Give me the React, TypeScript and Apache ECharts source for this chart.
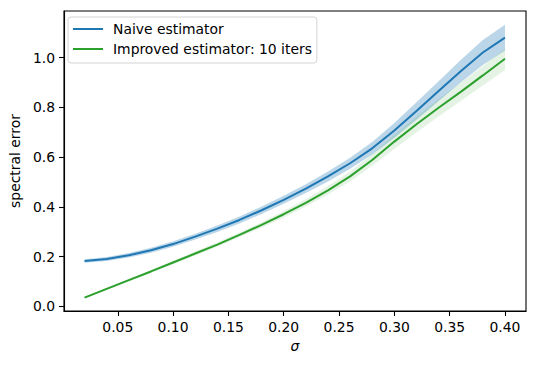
import React, { useEffect, useRef } from "react";
import * as echarts from "echarts";

const sigma = [0.02, 0.04, 0.06, 0.08, 0.1, 0.12, 0.14, 0.16, 0.18, 0.2, 0.22, 0.24, 0.26, 0.28, 0.3, 0.32, 0.34, 0.36, 0.38, 0.4];

const naiveMean = [0.182, 0.19, 0.205, 0.225, 0.25, 0.28, 0.312, 0.347, 0.386, 0.428, 0.473, 0.522, 0.575, 0.635, 0.707, 0.785, 0.865, 0.945, 1.02, 1.08];
const naiveLow = [0.175, 0.182, 0.196, 0.215, 0.239, 0.268, 0.299, 0.333, 0.371, 0.412, 0.455, 0.502, 0.553, 0.61, 0.677, 0.75, 0.825, 0.9, 0.97, 1.028];
const naiveHigh = [0.189, 0.198, 0.214, 0.235, 0.261, 0.292, 0.325, 0.361, 0.401, 0.444, 0.491, 0.542, 0.597, 0.66, 0.737, 0.82, 0.905, 0.99, 1.07, 1.132];

const improvedMean = [0.035, 0.07, 0.105, 0.14, 0.176, 0.212, 0.248, 0.287, 0.327, 0.37, 0.416, 0.466, 0.522, 0.588, 0.662, 0.732, 0.798, 0.862, 0.928, 0.995];
const improvedLow = [0.032, 0.066, 0.1, 0.134, 0.169, 0.204, 0.239, 0.277, 0.316, 0.357, 0.401, 0.449, 0.502, 0.565, 0.632, 0.7, 0.763, 0.825, 0.888, 0.95];
const improvedHigh = [0.038, 0.074, 0.11, 0.146, 0.183, 0.22, 0.257, 0.297, 0.338, 0.383, 0.431, 0.483, 0.542, 0.611, 0.69, 0.762, 0.832, 0.899, 0.965, 1.035];

const xTicks = [0.05, 0.1, 0.15, 0.2, 0.25, 0.3, 0.35, 0.4];
const yTicks = [0, 0.2, 0.4, 0.6, 0.8, 1.0];

const seriesNames = ["Naive estimator", "Improved estimator: 10 iters"];
const colors = ["#1f77b4", "#2ca02c"];

const FONT = "DejaVu Sans";
const FS = 13.9;

function bandSeries(low: number[], high: number[], fill: string) {
  return {
    type: "custom",
    silent: true,
    clip: true,
    data: [[sigma[0], low[0]]],
    renderItem: (_params: any, api: any) => {
      const pts: number[][] = [];
      for (let i = 0; i < sigma.length; i++) pts.push(api.coord([sigma[i], high[i]]));
      for (let i = sigma.length - 1; i >= 0; i--) pts.push(api.coord([sigma[i], low[i]]));
      return { type: "polygon", shape: { points: pts }, style: { fill, stroke: "none" } };
    },
    z: 1,
  };
}

export default function App() {
  const ref = useRef<HTMLDivElement>(null);
  useEffect(() => {
    if (!ref.current) return;
    const chart = echarts.init(ref.current, null, { renderer: "svg" });
    const axisCommon = {
      axisLine: { show: true, onZero: false, lineStyle: { color: "#000", width: 1.1 } },
      axisTick: { show: true, inside: false, length: 5, lineStyle: { color: "#000", width: 1.1 } },
      splitLine: { show: false },
    };
    chart.setOption({
      animation: false,
      backgroundColor: "#fff",
      grid: { left: 62, top: 11, width: 464, height: 300, show: true, borderColor: "#000", borderWidth: 1.1, backgroundColor: "transparent" },
      legend: {
        show: true,
        data: seriesNames.map((n, i) => ({ name: n, icon: "rect", itemStyle: { color: colors[i] } })),
        orient: "vertical",
        left: 68,
        top: 17,
        padding: [4, 5, 6, 5],
        itemGap: 4,
        itemWidth: 30,
        itemHeight: 2,
        backgroundColor: "rgba(255,255,255,0.8)",
        borderColor: "#d4d4d4",
        borderWidth: 1,
        borderRadius: 3,
        textStyle: { fontFamily: FONT, fontSize: FS, lineHeight: 16, color: "#000", padding: [0, 0, 0, 5] },
      },
      xAxis: {
        type: "value",
        min: 0.0014,
        max: 0.419,
        ...axisCommon,
        axisTick: { ...axisCommon.axisTick, customValues: xTicks },
        axisLabel: { customValues: xTicks, margin: 9, fontFamily: FONT, fontSize: FS, color: "#000", formatter: (v: number) => v.toFixed(2) },
        name: "σ",
        nameLocation: "middle",
        nameGap: 27,
        nameTextStyle: { fontFamily: FONT, fontSize: FS, fontStyle: "italic", color: "#000" },
      },
      yAxis: {
        type: "value",
        min: -0.019,
        max: 1.187,
        ...axisCommon,
        axisTick: { ...axisCommon.axisTick, customValues: yTicks },
        axisLabel: { customValues: yTicks, margin: 9, fontFamily: FONT, fontSize: FS, color: "#000", formatter: (v: number) => v.toFixed(1) },
        name: "spectral error",
        nameLocation: "middle",
        nameGap: 38,
        nameRotate: 90,
        nameTextStyle: { fontFamily: FONT, fontSize: FS, color: "#000" },
      },
      series: [
        bandSeries(naiveLow, naiveHigh, "rgba(31,119,180,0.3)"),
        {
          name: seriesNames[0],
          type: "line",
          data: sigma.map((s, i) => [s, naiveMean[i]]),
          symbol: "none",
          lineStyle: { color: colors[0], width: 2 },
          itemStyle: { color: colors[0] },
          z: 2,
        },
        bandSeries(improvedLow, improvedHigh, "rgba(44,160,44,0.12)"),
        {
          name: seriesNames[1],
          type: "line",
          data: sigma.map((s, i) => [s, improvedMean[i]]),
          symbol: "none",
          lineStyle: { color: colors[1], width: 2 },
          itemStyle: { color: colors[1] },
          z: 4,
        },
      ],
    });
    return () => chart.dispose();
  }, []);
  return <div ref={ref} style={{ width: 536, height: 365, position: "absolute", left: 0, top: 0 }} />;
}
